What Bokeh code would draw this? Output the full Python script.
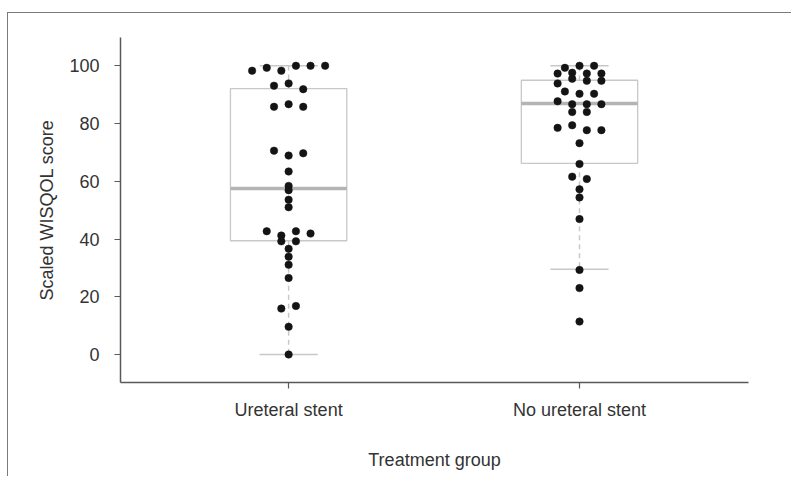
from bokeh.plotting import figure
from bokeh.models import Range1d, FixedTicker
from bokeh.embed import file_html
from bokeh.resources import INLINE

# ---- data ----
groups = ["Ureteral stent", "No ureteral stent"]
group_pos = [1, 2]

ureteral = [98.3, 99.3, 98.3, 100, 100, 100,
            93.1, 93.9, 91.9,
            85.8, 86.7, 85.8,
            70.6, 68.9, 69.7,
            63.4, 58.4, 56.9, 53.6, 51.0,
            42.7, 41.2, 42.7, 41.9,
            39.2, 39.2,
            36.6, 33.9, 31.1, 26.5,
            15.9, 16.8, 9.6, 0.0]

no_stent = [99.3, 100, 100,
            97.3, 97.6, 97.3, 97.3,
            93.9, 95.5, 94.8, 94.8,
            91.1, 90.3, 90.3,
            87.7, 86.7, 86.7, 86.7,
            84.0, 84.0,
            78.5, 79.4, 77.7, 77.7,
            73.2, 66.0, 61.6, 60.8, 57.2, 54.4, 46.9,
            29.3, 23.0, 11.4]

q1 = [39.4, 66.2]
median = [57.5, 86.9]
q3 = [92.1, 95.0]
whisk_lo = [0.0, 29.5]
whisk_hi = [100.0, 100.0]

y_ticks = [0, 20, 40, 60, 80, 100]

# ---- styling ----
FONT = "Liberation Sans"
TXT = "#333333"
AX = "#595959"
BOXC = "#c8c8c8"
MEDC = "#b4b4b4"

ROW_GAP = 1.3      # value gap that starts a new swarm row
SPACING = 0.0502   # horizontal distance between neighbouring dots
BOX_HALF = 0.2
CAP_HALF = 0.1


def swarm(values, center):
    order = sorted(range(len(values)), key=lambda i: -values[i])
    rows, cur = [], [order[0]]
    for a, b in zip(order[:-1], order[1:]):
        if values[a] - values[b] > ROW_GAP:
            rows.append(cur)
            cur = [b]
        else:
            cur.append(b)
    rows.append(cur)
    xs = [0.0] * len(values)
    for row in rows:
        row = sorted(row)
        n = len(row)
        for k, i in enumerate(row):
            xs[i] = center + (k - (n - 1) / 2) * SPACING
    return xs


p = figure(width=784, height=464, output_backend="svg", toolbar_location=None,
           x_range=Range1d(0.422, 2.581), y_range=Range1d(-9.7, 109.8),
           min_border_left=112, min_border_right=44, min_border_top=24,
           min_border_bottom=95)
p.styles = {"border-top": "1.5px solid #7a7a7a", "border-left": "1.5px solid #7a7a7a",
            "margin-top": "12px", "margin-left": "7px"}

p.outline_line_color = None
p.grid.grid_line_color = None
p.background_fill_color = "white"
p.border_fill_color = "white"

# boxes
lefts = [c - BOX_HALF for c in group_pos]
rights = [c + BOX_HALF for c in group_pos]
p.quad(left=lefts, right=rights, bottom=q1, top=q3, fill_color=None,
       line_color=BOXC, line_width=1.3)
# whiskers (dashed)
p.segment(x0=group_pos, x1=group_pos, y0=q3, y1=whisk_hi, line_color=BOXC,
          line_width=1.5, line_dash="5 4")
p.segment(x0=group_pos, x1=group_pos, y0=q1, y1=whisk_lo, line_color=BOXC,
          line_width=1.5, line_dash="5 4")
# caps
p.segment(x0=[c - CAP_HALF for c in group_pos], x1=[c + CAP_HALF for c in group_pos],
          y0=whisk_hi, y1=whisk_hi, line_color=BOXC, line_width=1.5)
p.segment(x0=[c - CAP_HALF for c in group_pos], x1=[c + CAP_HALF for c in group_pos],
          y0=whisk_lo, y1=whisk_lo, line_color=BOXC, line_width=1.5)
# medians
p.segment(x0=lefts, x1=rights, y0=median, y1=median, line_color=MEDC, line_width=3.5)

# dots
for vals, c in zip([ureteral, no_stent], group_pos):
    p.scatter(x=swarm(vals, c), y=vals, size=7.5, fill_color="#141414",
              line_color="#141414", line_width=0.5)

# axes
for ax in (p.xaxis[0], p.yaxis[0]):
    ax.axis_line_color = AX
    ax.axis_line_width = 1.5
    ax.major_tick_line_color = AX
    ax.major_tick_line_width = 1.2
    ax.major_tick_out = 6
    ax.major_tick_in = 0
    ax.minor_tick_line_color = None
    ax.major_label_text_font = FONT
    ax.major_label_text_font_size = "18px"
    ax.major_label_text_color = TXT
    ax.axis_label_text_font = FONT
    ax.axis_label_text_font_size = "18px"
    ax.axis_label_text_color = TXT
    ax.axis_label_text_font_style = "normal"

p.xaxis.ticker = FixedTicker(ticks=group_pos)
p.xaxis.major_label_overrides = {pos: g for pos, g in zip(group_pos, groups)}
p.xaxis.major_label_standoff = 11
p.xaxis.axis_label = "Treatment group"
p.xaxis.axis_label_standoff = 27

p.yaxis.ticker = FixedTicker(ticks=y_ticks)
p.yaxis.major_label_standoff = 15
p.yaxis.axis_label = "Scaled WISQOL score"
p.yaxis.axis_label_standoff = 9

open("out.html", "w").write(file_html(p, INLINE))
